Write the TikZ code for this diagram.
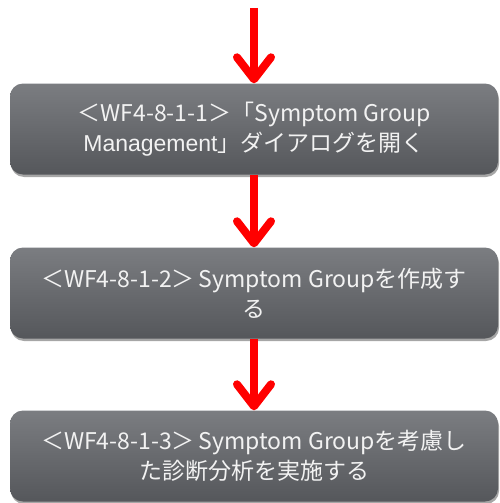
\documentclass[tikz,border=0pt]{standalone}
\usepackage{fontspec}
\setmainfont{Liberation Sans}
\newfontfamily\jp{Noto Sans CJK JP}
\usetikzlibrary{arrows.meta,shadows}
\definecolor{boxtop}{HTML}{7B7D81}
\definecolor{boxbot}{HTML}{55575B}
\definecolor{arrowred}{HTML}{FF0000}
\definecolor{txt}{HTML}{F2F2F2}
\begin{document}
\begin{tikzpicture}[x=1pt,y=-1pt,
  stepbox/.style={rounded corners=13pt, top color=boxtop, bottom color=boxbot,
    minimum width=488pt, minimum height=91pt, inner sep=0pt,
    text=txt, font=\fontsize{23}{30}\selectfont, align=center,
    drop shadow={shadow xshift=1pt, shadow yshift=-2.5pt, opacity=0.35, fill=black}},
  flow/.style={draw=arrowred, line width=8pt,
    -{Straight Barb[length=22pt,width=34pt,round]}}]
\useasboundingbox (0,0) rectangle (500,503);
\coordinate (start) at (254,8);
\node[stepbox] (b1) at (254,129) {\jp{＜}WF4-8-1-1\jp{＞「}Symptom Group\\Management\jp{」ダイアログを開く}};
\node[stepbox] (b2) at (254,293) {\jp{＜}WF4-8-1-2\jp{＞}\,Symptom Group\jp{を作成す}\\\jp{る}};
\node[stepbox] (b3) at (254,456) {\jp{＜}WF4-8-1-3\jp{＞}\,Symptom Group\jp{を考慮し}\\\jp{た診断分析を実施する}};
\draw[flow] (start) -- (b1.north);
\draw[flow] (b1.south) -- (b2.north);
\draw[flow] (b2.south) -- (b3.north);
\end{tikzpicture}
\end{document}
